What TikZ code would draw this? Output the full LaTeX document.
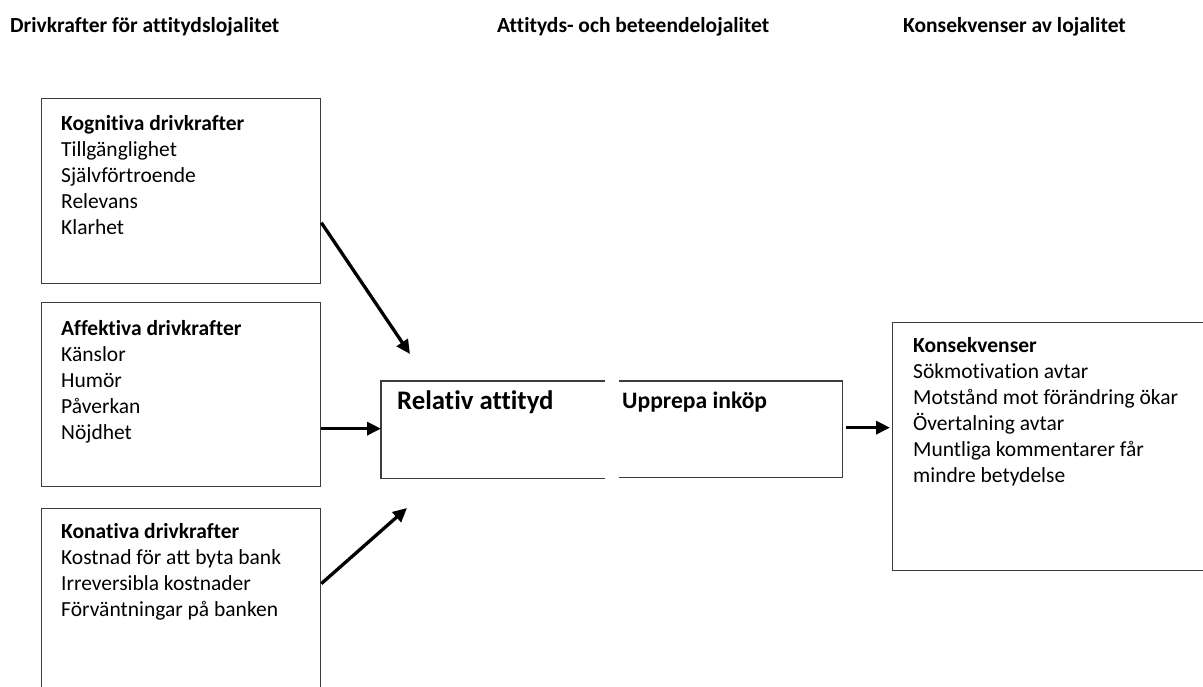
\documentclass[tikz,border=0pt]{standalone}
\usepackage{fontspec}
\setmainfont{Carlito}[Ligatures=NoCommon]
\usetikzlibrary{arrows.meta}
\definecolor{boxgray}{HTML}{3C3C3C}
\tikzset{
  box/.style={draw=boxgray,line width=1.3pt,anchor=north west,inner sep=0pt},
  txt/.style={anchor=base west,inner sep=0pt,align=left,font=\fontsize{21.5}{26}\selectfont},
  head/.style={anchor=base west,inner sep=0pt,font=\bfseries\fontsize{21.5}{26}\selectfont},
  pil/.style={-{Triangle[length=14pt,width=13pt]},line width=3.3pt},
}
\begin{document}
\begin{tikzpicture}[x=1pt,y=-1pt]
    \useasboundingbox (0,0) rectangle (1203,686);
    \clip (0,0) rectangle (1203,686);
    % rubriker
    \node[head] (h1) at (10,32) {Drivkrafter för attitydslojalitet};
    \node[head] (h2) at (497,32) {Attityds- och beteendelojalitet};
    \node[head] (h3) at (903,32) {Konsekvenser av lojalitet};
    % drivkrafter (base = sista radens baslinje)
    \node[box,minimum width=279pt,minimum height=185pt] (kog) at (41,98) {};
    \node[box,minimum width=279pt,minimum height=184pt] (aff) at (41,302) {};
    \node[box,minimum width=279pt,minimum height=192pt] (kon) at (41,508) {};
    \node[txt] (kogt) at (61,234) {\textbf{Kognitiva drivkrafter}\\Tillgänglighet\\Självförtroende\\Relevans\\Klarhet};
    \node[txt] (afft) at (61,439) {\textbf{Affektiva drivkrafter}\\Känslor\\Humör\\Påverkan\\Nöjdhet};
    \node[txt] (kont) at (61,616) {\textbf{Konativa drivkrafter}\\Kostnad för att byta bank\\Irreversibla kostnader\\Förväntningar på banken};
    % mitten
    \node[box,draw=none,minimum width=223pt,minimum height=96pt] (rel) at (381,381) {};
    \node[box,draw=none,minimum width=222pt,minimum height=95pt] (upp) at (619,381) {};
    \draw[box] (rel.north east) -- (rel.north west) -- (rel.south west) -- (rel.south east);
    \draw[box] (upp.north west) -- (upp.north east) -- (upp.south east) -- (upp.south west);
    \node[anchor=base west,inner sep=0pt,font=\bfseries\fontsize{26.8}{32}\selectfont] (relt) at (397,409) {Relativ attityd};
    \node[anchor=base west,inner sep=0pt,font=\bfseries\fontsize{23.6}{28}\selectfont] (uppt) at (622,408) {Upprepa inköp};
    % konsekvenser
    \node[box,minimum width=330pt,minimum height=248pt] (kons) at (892,322) {};
    \node[txt] (konst) at (913,482) {\textbf{Konsekvenser}\\Sökmotivation avtar\\Motstånd mot förändring ökar\\Övertalning avtar\\Muntliga kommentarer får\\mindre betydelse};
    % pilar
    \coordinate (p1) at (410,354);
    \coordinate (p3) at (407,508);
    \draw[pil] ([yshift=-31.5pt]kog.east) -- (p1);
    \draw[pil] ([yshift=-34pt]aff.east) -- ([yshift=1pt]rel.west);
    \draw[pil] ([yshift=21pt]kon.east) -- (p3);
    \draw[pil] ([xshift=4pt,yshift=1.5pt]upp.east) -- ([xshift=-2pt,yshift=19pt]kons.west);
\end{tikzpicture}
\end{document}
